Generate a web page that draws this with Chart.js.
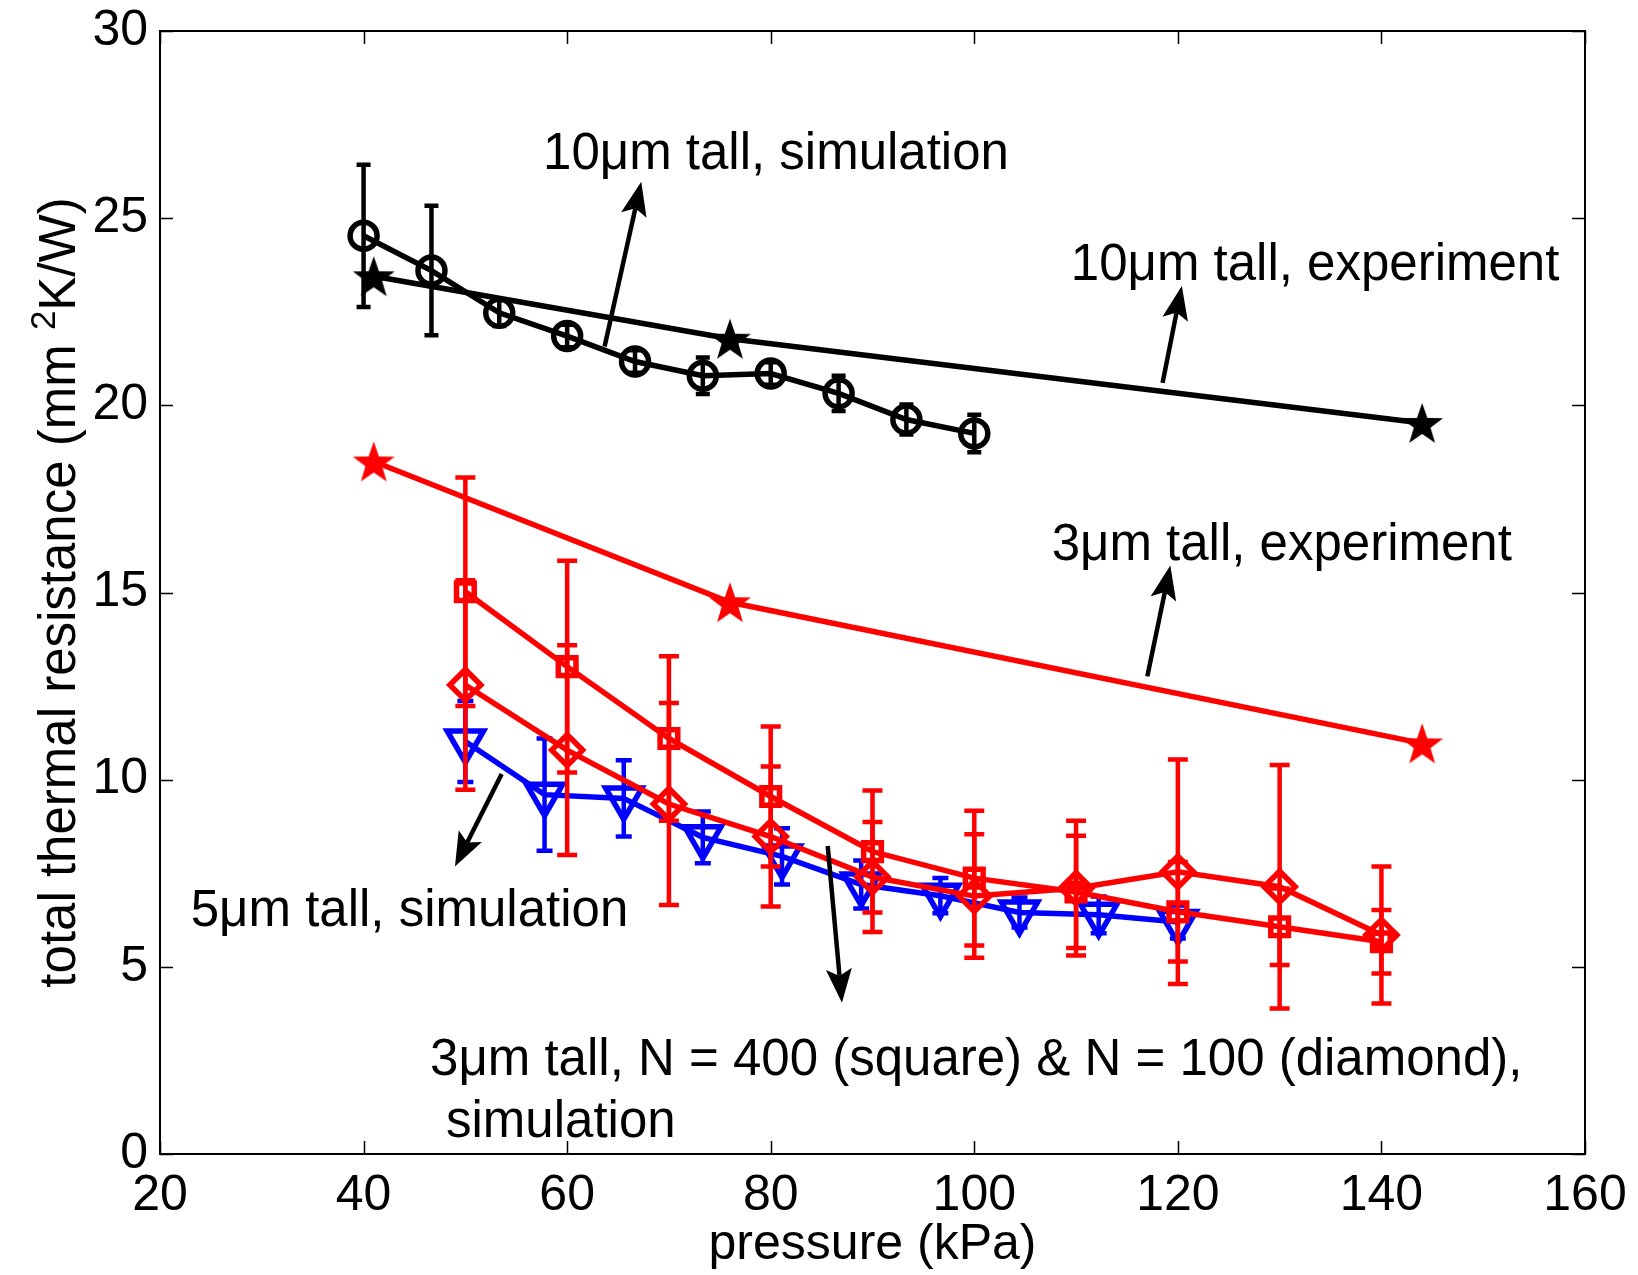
<!DOCTYPE html>
<html>
<head>
<meta charset="utf-8">
<style>
  html, body { margin: 0; padding: 0; background: #fff; }
  #wrap { width: 1638px; height: 1275px; position: relative; }
</style>
<script src="https://cdn.jsdelivr.net/npm/chart.js@4.4.1/dist/chart.umd.min.js"></script>
</head>
<body>
<div id="wrap"><canvas id="c" width="1638" height="1275"></canvas></div>
<script>
// ---- data: total thermal resistance (mm^2 K/W) vs pressure (kPa) ----

// 10 um tall pillars, simulation (circles)
const sim10X   = [40, 46.67, 53.33, 60, 66.67, 73.33, 80, 86.67, 93.33, 100];
const sim10Y   = [24.53, 23.6, 22.47, 21.85, 21.17, 20.79, 20.85, 20.32, 19.62, 19.25];
const sim10Err = [1.9, 1.73, 0.35, 0.3, 0.3, 0.49, 0.3, 0.47, 0.4, 0.5];

// 10 um tall pillars, experiment (stars)
const exp10X = [41, 76, 144];
const exp10Y = [23.45, 21.78, 19.53];

// 3 um tall pillars, experiment (stars)
const exp3X = [41, 76, 144];
const exp3Y = [18.5, 14.74, 10.97];

// 5 um tall pillars, simulation (down triangles)
const sim5X   = [50, 57.78, 65.56, 73.33, 81.11, 88.89, 96.67, 104.44, 112.22, 120];
const sim5Y   = [11.02, 9.6, 9.5, 8.46, 7.95, 7.2, 6.9, 6.45, 6.39, 6.2];
const sim5Err = [1.08, 1.5, 1.02, 0.69, 0.75, 0.64, 0.47, 0.4, 0.49, 0.44];

// 3 um tall pillars, simulation, N = 400 (squares) and N = 100 (diamonds)
const sim3X       = [50, 60, 70, 80, 90, 100, 110, 120, 130, 140];
const sim3N400Y   = [15.02, 13.02, 11.1, 9.55, 8.08, 7.37, 7.0, 6.47, 6.07, 5.67];
const sim3N400Err = [3.05, 2.83, 2.2, 1.87, 1.63, 1.8, 1.5, 1.33, 1.02, 0.85];
const sim3N100Y   = [12.53, 10.79, 9.35, 8.48, 7.4, 6.89, 7.1, 7.54, 7.14, 5.85];
const sim3N100Err = [2.8, 2.8, 2.7, 1.87, 1.47, 1.65, 1.8, 3.0, 3.25, 1.83];

// axis ticks
const xTickValues = [20, 40, 60, 80, 100, 120, 140, 160];
const yTickValues = [0, 5, 10, 15, 20, 25, 30];

// ---- annotations (in data units) ----
const noteTexts = [
  { text: '10\u03bcm tall, simulation', x: 57.63, y: 26.31 },
  { text: '10\u03bcm tall, experiment', x: 109.48, y: 23.36 },
  { text: '3\u03bcm tall, experiment', x: 107.6, y: 15.88 },
  { text: '5\u03bcm tall, simulation', x: 23.02, y: 6.09 },
  { text: '3\u03bcm tall, N = 400 (square) & N = 100 (diamond),', x: 46.53, y: 2.11 },
  { text: 'simulation', x: 48.1, y: 0.45 }
];
const noteArrows = [
  { from: [63.68, 21.57], to: [67.28, 25.97] },
  { from: [118.5, 20.6],  to: [120.39, 23.19] },
  { from: [117.0, 12.76], to: [119.26, 15.72] },
  { from: [53.57, 10.15], to: [48.98, 7.68] },
  { from: [85.6, 8.23],   to: [87.0, 4.04] }
];

// y axis title, with a raised "2" for mm^2
const yTitleParts = [
  { text: 'total thermal resistance (mm ', sup: false },
  { text: '2', sup: true },
  { text: 'K/W)', sup: false }
];

const FONT = '"Liberation Sans", Arial, Helvetica, sans-serif';

function pts(xs, ys) { return xs.map((x, i) => ({ x: x, y: ys[i] })); }

// filled five-point star used as a marker image
function starMarker(color, R) {
  const size = Math.ceil(2 * R + 4);
  const cv = document.createElement('canvas');
  cv.width = size; cv.height = size;
  const g = cv.getContext('2d');
  const cx = size / 2, cy = size / 2 + R * 0.095;
  const r = R * 0.4;
  g.beginPath();
  for (let i = 0; i < 10; i++) {
    const rad = (i % 2 === 0) ? R : r;
    const a = -Math.PI / 2 + i * Math.PI / 5;
    const px = cx + rad * Math.cos(a), py = cy + rad * Math.sin(a);
    if (i === 0) g.moveTo(px, py); else g.lineTo(px, py);
  }
  g.closePath();
  g.fillStyle = color;
  g.fill();
  return cv;
}

// vertical error bars with caps, drawn right after their own dataset
const errorBarPlugin = {
  id: 'errorBars',
  afterDatasetDraw(chart, args) {
    const ds = chart.data.datasets[args.index];
    if (!ds.errors) return;
    const xs = chart.scales.x, ys = chart.scales.y;
    const ctx = chart.ctx;
    ctx.save();
    ctx.strokeStyle = ds.borderColor;
    ctx.lineWidth = 4.5;
    ctx.lineCap = 'butt';
    ds.data.forEach((p, i) => {
      const e = ds.errors[i];
      const px = xs.getPixelForValue(p.x);
      const top = ys.getPixelForValue(p.y + e);
      const bot = ys.getPixelForValue(p.y - e);
      const hw = ds.capHalfWidth;
      ctx.beginPath();
      ctx.moveTo(px, top); ctx.lineTo(px, bot);
      ctx.moveTo(px - hw, top); ctx.lineTo(px + hw, top);
      ctx.moveTo(px - hw, bot); ctx.lineTo(px + hw, bot);
      ctx.stroke();
    });
    ctx.restore();
  }
};

// boxed axes with inward tick marks on all four sides, and the y title
const boxAxesPlugin = {
  id: 'boxAxes',
  afterDraw(chart) {
    const { ctx, chartArea: a } = chart;
    const xs = chart.scales.x, ys = chart.scales.y;
    const tl = 13;
    ctx.save();
    ctx.strokeStyle = '#000';
    ctx.lineWidth = 1.5;
    ctx.beginPath();
    xs.ticks.forEach(t => {
      const px = Math.round(xs.getPixelForValue(t.value)) + 0.5;
      ctx.moveTo(px, a.bottom); ctx.lineTo(px, a.bottom - tl);
      ctx.moveTo(px, a.top); ctx.lineTo(px, a.top + tl);
    });
    ys.ticks.forEach(t => {
      const py = Math.round(ys.getPixelForValue(t.value)) + 0.5;
      ctx.moveTo(a.left, py); ctx.lineTo(a.left + tl, py);
      ctx.moveTo(a.right, py); ctx.lineTo(a.right - tl, py);
    });
    ctx.stroke();
    ctx.lineWidth = 2;
    ctx.strokeRect(a.left, a.top, a.right - a.left, a.bottom - a.top);

    // rotated y-axis title
    const big = '51px ' + FONT, small = '35px ' + FONT;
    let total = 0;
    const widths = yTitleParts.map(p => {
      ctx.font = p.sup ? small : big;
      const w = ctx.measureText(p.text).width;
      total += w;
      return w;
    });
    ctx.translate(75, (a.top + a.bottom) / 2);
    ctx.rotate(-Math.PI / 2);
    ctx.fillStyle = '#000';
    ctx.textAlign = 'left';
    ctx.textBaseline = 'alphabetic';
    let pos = -total / 2;
    yTitleParts.forEach((p, i) => {
      ctx.font = p.sup ? small : big;
      ctx.fillText(p.text, pos, p.sup ? -20 : 0);
      pos += widths[i];
    });
    ctx.restore();
  }
};

// text labels and arrows pointing from curves to their labels
const notesPlugin = {
  id: 'notes',
  afterDraw(chart) {
    const ctx = chart.ctx;
    const xs = chart.scales.x, ys = chart.scales.y;
    ctx.save();
    ctx.fillStyle = '#000';
    ctx.strokeStyle = '#000';
    ctx.font = '51px ' + FONT;
    ctx.textAlign = 'left';
    ctx.textBaseline = 'alphabetic';
    noteTexts.forEach(n => {
      ctx.fillText(n.text, xs.getPixelForValue(n.x), ys.getPixelForValue(n.y));
    });
    noteArrows.forEach(ar => {
      const x0 = xs.getPixelForValue(ar.from[0]), y0 = ys.getPixelForValue(ar.from[1]);
      const x1 = xs.getPixelForValue(ar.to[0]),   y1 = ys.getPixelForValue(ar.to[1]);
      const ang = Math.atan2(y1 - y0, x1 - x0);
      const L = 34, W = 13, notch = 27;
      const ux = Math.cos(ang), uy = Math.sin(ang);
      const nx = -uy, ny = ux;
      ctx.lineWidth = 4.5;
      ctx.beginPath();
      ctx.moveTo(x0, y0);
      ctx.lineTo(x1 - ux * notch, y1 - uy * notch);
      ctx.stroke();
      ctx.beginPath();
      ctx.moveTo(x1, y1);
      ctx.lineTo(x1 - ux * L + nx * W, y1 - uy * L + ny * W);
      ctx.lineTo(x1 - ux * notch, y1 - uy * notch);
      ctx.lineTo(x1 - ux * L - nx * W, y1 - uy * L - ny * W);
      ctx.closePath();
      ctx.fill();
    });
    ctx.restore();
  }
};

Chart.defaults.color = '#000';
Chart.defaults.font.family = FONT;

const RED = '#ff0000', BLUE = '#0000ff', BLACK = '#000000';
const lineCommon = { showLine: true, borderWidth: 5.5, backgroundColor: 'rgba(0,0,0,0)', pointBorderWidth: 5.5, tension: 0 };

new Chart(document.getElementById('c'), {
  type: 'scatter',
  data: {
    datasets: [
      Object.assign({}, lineCommon, {
        label: '3\u03bcm tall, N = 100, simulation',
        data: pts(sim3X, sim3N100Y), errors: sim3N100Err, capHalfWidth: 10,
        borderColor: RED, pointBorderColor: RED, pointStyle: 'rectRot', pointRadius: 15.5
      }),
      Object.assign({}, lineCommon, {
        label: '3\u03bcm tall, N = 400, simulation',
        data: pts(sim3X, sim3N400Y), errors: sim3N400Err, capHalfWidth: 10,
        borderColor: RED, pointBorderColor: RED, pointStyle: 'rect', pointRadius: 12.5
      }),
      Object.assign({}, lineCommon, {
        label: '3\u03bcm tall, experiment',
        data: pts(exp3X, exp3Y),
        borderColor: RED, pointStyle: starMarker(RED, 22), pointRadius: 22
      }),
      Object.assign({}, lineCommon, {
        label: '5\u03bcm tall, simulation',
        data: pts(sim5X, sim5Y), errors: sim5Err, capHalfWidth: 8,
        borderColor: BLUE, pointBorderColor: BLUE, pointStyle: 'triangle', rotation: 180, pointRadius: 21
      }),
      Object.assign({}, lineCommon, {
        label: '10\u03bcm tall, experiment',
        data: pts(exp10X, exp10Y),
        borderColor: BLACK, pointStyle: starMarker(BLACK, 22), pointRadius: 22
      }),
      Object.assign({}, lineCommon, {
        label: '10\u03bcm tall, simulation',
        data: pts(sim10X, sim10Y), errors: sim10Err, capHalfWidth: 7,
        borderColor: BLACK, pointBorderColor: BLACK, pointStyle: 'circle', pointRadius: 13.5
      })
    ]
  },
  options: {
    responsive: false,
    animation: false,
    events: [],
    layout: { padding: { left: 0, top: 31, right: 53, bottom: 0 } },
    plugins: { legend: { display: false }, tooltip: { enabled: false } },
    scales: {
      x: {
        type: 'linear', position: 'bottom', min: 20, max: 160,
        afterBuildTicks(scale) { scale.ticks = xTickValues.map(v => ({ value: v })); },
        afterFit(scale) { scale.height = 121; scale.paddingLeft = 0; scale.paddingRight = 0; },
        grid: { display: false, drawTicks: false },
        border: { display: false },
        ticks: { font: { size: 50 }, padding: 12, maxRotation: 0, autoSkip: false, color: '#000' },
        title: { display: true, text: 'pressure (kPa)', font: { size: 50 }, padding: { top: 0, bottom: 0 }, color: '#000' }
      },
      y: {
        type: 'linear', position: 'left', min: 0, max: 30,
        afterBuildTicks(scale) { scale.ticks = yTickValues.map(v => ({ value: v })); },
        afterFit(scale) { scale.width = 160; scale.paddingTop = 0; scale.paddingBottom = 0; },
        grid: { display: false, drawTicks: false },
        border: { display: false },
        ticks: { font: { size: 50 }, padding: 12, autoSkip: false, color: '#000' },
        title: { display: false }
      }
    }
  },
  plugins: [errorBarPlugin, boxAxesPlugin, notesPlugin]
});
</script>
</body>
</html>
